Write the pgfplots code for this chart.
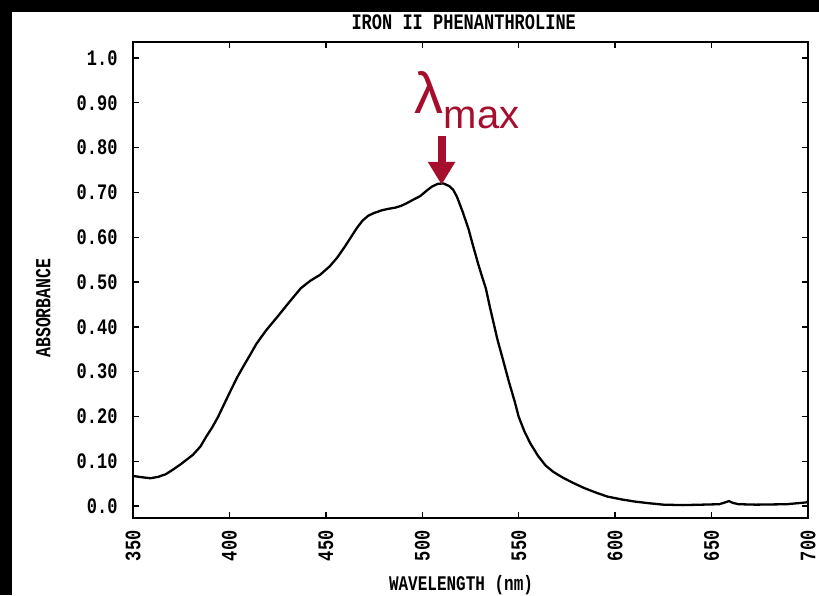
\documentclass[border=0pt]{standalone}
\usepackage{fontspec}
\setmainfont{Liberation Mono}
\newfontfamily\lsans{Liberation Sans}
\usepackage{graphicx}
\usepackage{pgfplots}
\pgfplotsset{compat=1.18}
\usetikzlibrary{arrows.meta}
\definecolor{lred}{RGB}{165,15,45}
\newcommand\sy[1]{\scalebox{1}[1.3]{#1}}

\pgfplotstableread{
wl abs
350 0.067
355 0.064
359 0.062
363 0.065
367 0.071
371 0.082
375 0.094
381 0.114
385 0.133
388 0.155
391 0.175
394 0.198
397 0.225
400 0.252
404 0.287
407 0.310
410 0.332
414 0.362
419 0.392
425 0.423
431 0.455
437 0.486
442 0.503
447 0.516
452 0.535
456 0.555
460 0.580
463 0.600
466 0.620
469 0.637
472 0.648
475 0.654
479 0.660
482 0.663
486 0.666
489 0.670
492 0.676
495 0.683
499 0.692
502 0.703
505 0.713
508 0.719
511 0.720
514 0.714
516 0.706
518 0.690
521 0.656
524 0.618
526 0.586
529 0.540
531 0.512
533 0.485
535 0.445
537 0.408
539 0.371
542 0.324
545 0.276
548 0.232
550 0.199
553 0.166
556 0.140
560 0.112
564 0.090
568 0.076
573 0.063
578 0.052
584 0.040
590 0.030
596 0.021
603 0.015
610 0.010
618 0.006
625 0.003
635 0.002
645 0.003
654 0.004
657 0.008
659 0.011
661 0.007
664 0.004
673 0.003
689 0.004
699 0.008
700 0.010
}\spectrum

\begin{document}
\begin{tikzpicture}[x=1pt,y=1pt]
\useasboundingbox (0,0) rectangle (819,-595);
\fill[black] (0,0) rectangle (819,-12);
\fill[black] (0,0) rectangle (12,-595);
\begin{axis}[
  at={(133pt,-518pt)}, anchor=south west,
  scale only axis, width=675pt, height=476pt,
  xmin=350, xmax=700, ymin=-0.0268, ymax=1.0357,
  xtick={350,400,450,500,550,600,650,700},
  xticklabels={\sy{350},\sy{400},\sy{450},\sy{500},\sy{550},\sy{600},\sy{650},\sy{700}},
  ytick={0,0.1,0.2,0.3,0.4,0.5,0.6,0.7,0.8,0.9,1.0},
  yticklabels={\sy{0.0},\sy{0.10},\sy{0.20},\sy{0.30},\sy{0.40},\sy{0.50},\sy{0.60},\sy{0.70},\sy{0.80},\sy{0.90},\sy{1.0}},
  tick align=inside,
  major tick length=6pt,
  tick style={black, line width=1.4pt},
  axis line style={black, line width=1.8pt},
  ticklabel style={font=\fontsize{17}{17}\selectfont\bfseries},
  xticklabel style={rotate=90, anchor=east},
  yticklabel style={anchor=east},
  xticklabel shift=9pt,
  yticklabel shift=12pt,
  /pgf/number format/assume math mode=true,
  title={\sy{IRON II PHENANTHROLINE}},
  title style={at={(0.490,1.029)}, anchor=center, font=\fontsize{17}{17}\selectfont\bfseries},
  xlabel={\sy{WAVELENGTH (nm)}},
  xlabel style={at={(0.486,-0.141)}, anchor=center, font=\fontsize{16}{16}\selectfont\bfseries},
  ylabel={\sy{ABSORBANCE}},
  ylabel style={at={(-0.133,0.441)}, anchor=center, font=\fontsize{16.5}{16.5}\selectfont\bfseries},
  clip=false,
]
\addplot[black, line width=2.3pt, line join=round] table[x=wl, y=abs] {\spectrum};
\draw[lred, line width=8pt, -{Triangle[width=26pt,length=23pt]}] (axis cs:510,0.826) -- (axis cs:510,0.717);
\node[anchor=base west, text=lred, inner sep=0pt] at (axis cs:496,0.877)
  {\lsans\fontsize{58}{58}\selectfont λ\raisebox{-15pt}{\fontsize{40}{40}\selectfont max}};
\end{axis}
\end{tikzpicture}
\end{document}
